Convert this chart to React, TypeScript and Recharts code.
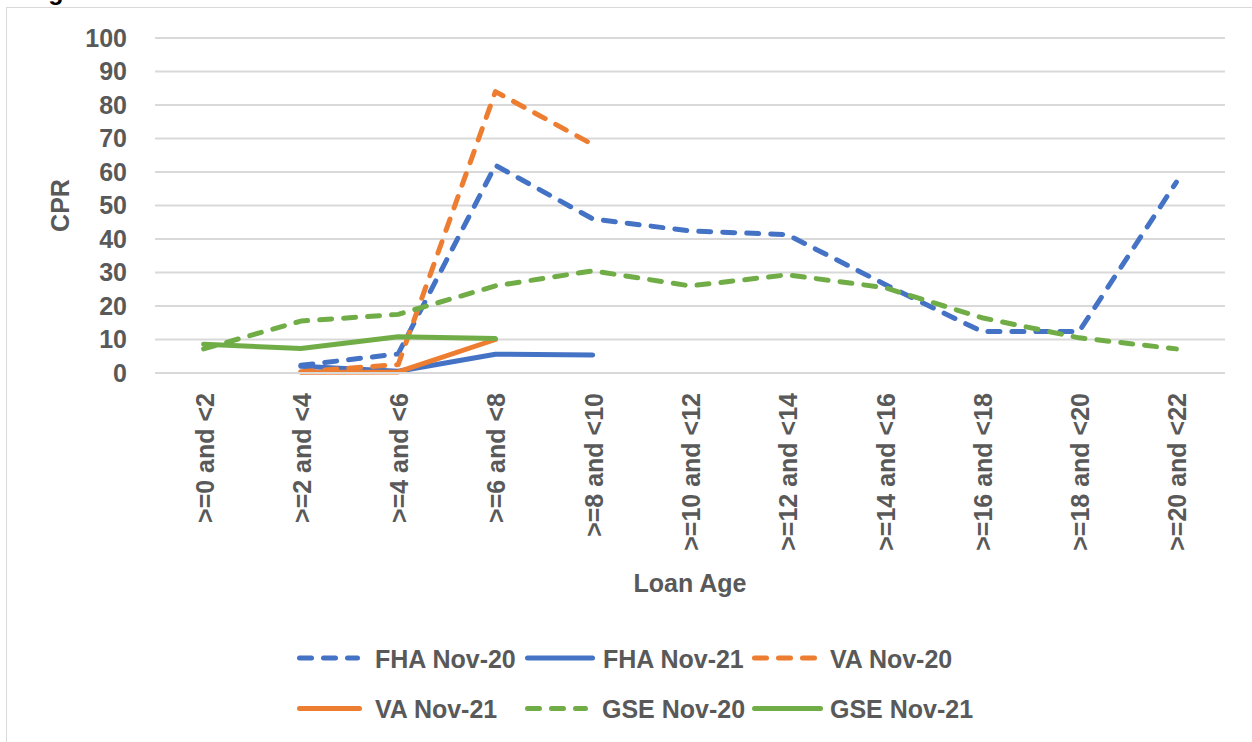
import React from 'react';
import { LineChart, Line, XAxis, YAxis, CartesianGrid, Legend } from 'recharts';

const ageBuckets = [
  '>=0 and <2', '>=2 and <4', '>=4 and <6', '>=6 and <8', '>=8 and <10', '>=10 and <12',
  '>=12 and <14', '>=14 and <16', '>=16 and <18', '>=18 and <20', '>=20 and <22',
];
const fhaNov20 = [null, 2.3, 5.7, 62, 46, 42.4, 41.3, 26.5, 12.4, 12.4, 57];
const fhaNov21 = [null, 2, 0.5, 5.6, 5.4, null, null, null, null, null, null];
const vaNov20 = [null, 0.4, 2.5, 84, 68.2, null, null, null, null, null, null];
const vaNov21 = [null, 0.2, 0.3, 10, null, null, null, null, null, null, null];
const gseNov20 = [7.2, 15.5, 17.5, 26, 30.5, 26, 29.3, 25.5, 16.5, 10.5, 7.2];
const gseNov21 = [8.6, 7.3, 10.8, 10.3, null, null, null, null, null, null, null];
const yTicks = [0, 10, 20, 30, 40, 50, 60, 70, 80, 90, 100];

const BLUE = '#4472C4';
const ORANGE = '#ED7D31';
const GREEN = '#70AD47';
const TEXT = '#595959';
const FONT = "'Liberation Sans', Arial, sans-serif";
const DASH = '12 12';

const series = [
  { key: 'fha20', name: 'FHA Nov-20', values: fhaNov20, color: BLUE, dashed: true },
  { key: 'fha21', name: 'FHA Nov-21', values: fhaNov21, color: BLUE, dashed: false },
  { key: 'va20', name: 'VA Nov-20', values: vaNov20, color: ORANGE, dashed: true },
  { key: 'va21', name: 'VA Nov-21', values: vaNov21, color: ORANGE, dashed: false },
  { key: 'gse20', name: 'GSE Nov-20', values: gseNov20, color: GREEN, dashed: true },
  { key: 'gse21', name: 'GSE Nov-21', values: gseNov21, color: GREEN, dashed: false },
];

const data = ageBuckets.map((age, i) => {
  const row: Record<string, any> = { age };
  series.forEach(s => { row[s.key] = s.values[i]; });
  return row;
});

// legend slots: [line start, line end, text x, row y]
const legendSlots = [
  [299.5, 357.5, 375, 658], [527.5, 592.5, 603, 658], [754.5, 814.5, 830, 658],
  [299.5, 359.5, 375, 708.5], [527.5, 585.5, 602, 708.5], [754.5, 820.5, 830, 708.5],
];
const LEGEND_TOP = 630;

const textStyle = { fill: TEXT, fontFamily: FONT, fontWeight: 700, fontSize: 25 };

function AgeTick({ x, y, payload }: any) {
  return (
    <text
      x={0} y={0}
      transform={`translate(${x + 10}, ${y}) rotate(-90)`}
      textAnchor="end"
      {...textStyle}
    >
      {payload.value}
    </text>
  );
}

function CprLabel({ viewBox }: any) {
  const vb = viewBox || {};
  const cy = (vb.y ?? 38) + (vb.height ?? 335) / 2;
  return (
    <text x={0} y={0} transform={`translate(69, ${cy}) rotate(-90)`} textAnchor="middle" {...textStyle}>
      CPR
    </text>
  );
}

function LoanAgeLabel({ viewBox }: any) {
  const vb = viewBox || {};
  const cx = (vb.x ?? 155) + (vb.width ?? 1070) / 2;
  return (
    <text x={cx} y={592} textAnchor="middle" {...textStyle}>
      Loan Age
    </text>
  );
}

function ChartLegend() {
  return (
    <svg width={1252} height={110} style={{ display: 'block' }}>
      {series.map((s, i) => {
        const [x1, x2, tx, ry] = legendSlots[i];
        const y = ry - LEGEND_TOP;
        return (
          <g key={s.key}>
            <line
              x1={x1} x2={x2} y1={y} y2={y}
              stroke={s.color} strokeWidth={5} strokeLinecap="round"
              strokeDasharray={s.dashed ? DASH : undefined}
            />
            <text x={tx} y={y + 9.5} {...textStyle}>{s.name}</text>
          </g>
        );
      })}
    </svg>
  );
}

export default function App() {
  return (
    <div style={{ position: 'absolute', left: 0, top: 0, width: 1252, height: 742, overflow: 'hidden', background: '#fff' }}>
      <div style={{ position: 'absolute', left: 6, top: 7, width: 1300, height: 800, borderLeft: '1.5px solid #d9d9d9', borderTop: '1.5px solid #d9d9d9' }} />
      <div style={{ position: 'absolute', left: 26, top: -23, fontFamily: FONT, fontWeight: 700, fontSize: 25, lineHeight: '28px', color: '#000' }}>
        Figure
      </div>
      <LineChart
        width={1252}
        height={742}
        data={data}
        margin={{ top: 38, right: 27, left: 0, bottom: 139 }}
      >
        <CartesianGrid vertical={false} stroke="#d9d9d9" strokeWidth={2} />
        <XAxis
          dataKey="age"
          height={230}
          padding={{ left: 48.6, right: 48.6 }}
          axisLine={{ stroke: '#d9d9d9', strokeWidth: 2 }}
          tickLine={false}
          tickSize={0}
          tickMargin={20}
          interval={0}
          tick={<AgeTick />}
          label={<LoanAgeLabel />}
        />
        <YAxis
          width={155}
          domain={[0, 100]}
          ticks={yTicks}
          interval={0}
          axisLine={false}
          tickLine={false}
          tickSize={0}
          tickMargin={28}
          tick={textStyle}
          label={<CprLabel />}
        />
        {series.map(s => (
          <Line
            key={s.key}
            type="linear"
            dataKey={s.key}
            name={s.name}
            stroke={s.color}
            strokeWidth={5}
            strokeLinecap="round"
            strokeLinejoin="round"
            strokeDasharray={s.dashed ? DASH : undefined}
            dot={false}
            activeDot={false}
            connectNulls={false}
            isAnimationActive={false}
          />
        ))}
        <Legend
          layout="horizontal"
          verticalAlign="middle"
          align="center"
          wrapperStyle={{ left: 0, top: LEGEND_TOP, width: 1252, height: 110 }}
          content={() => <ChartLegend />}
        />
      </LineChart>
    </div>
  );
}
